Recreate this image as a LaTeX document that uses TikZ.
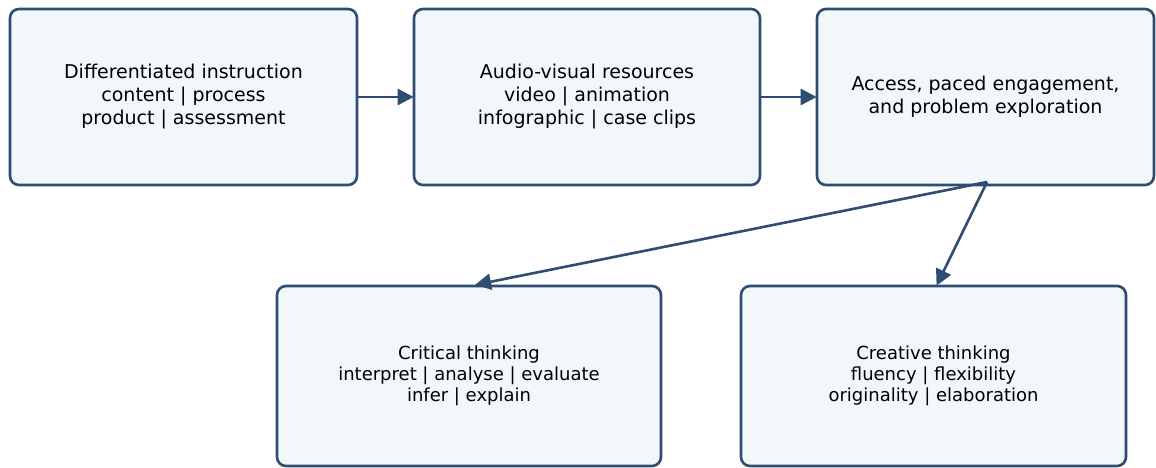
\documentclass[tikz,border=0pt]{standalone}
\usepackage{fontspec}
\setmainfont{DejaVu Sans}
\usetikzlibrary{arrows.meta,calc}
\definecolor{edge}{HTML}{2F4D73}
\definecolor{boxfill}{HTML}{F3F6FB}
\tikzset{
  box/.style={draw=edge, fill=boxfill, line width=2.6pt, rounded corners=9pt, align=center, inner sep=0pt},
  topbox/.style={box, minimum height=176pt, font=\fontsize{19}{23}\selectfont},
  lowbox/.style={box, minimum height=180pt, minimum width=384pt, font=\fontsize{18}{21}\selectfont},
  arr/.style={draw=edge, line width=2.6pt, -{Triangle[length=16pt,width=16pt]}, shorten >=-1pt}
}
\begin{document}
\begin{tikzpicture}[x=1pt,y=-1pt]
\useasboundingbox[fill=white] (0,0) rectangle (1156,468);
\node[topbox, minimum width=347pt] (b1) at (183.5,97) {Differentiated instruction\\content | process\\product | assessment};
\node[topbox, minimum width=346pt] (b2) at (587,97) {Audio-visual resources\\video | animation\\infographic | case clips};
\node[topbox, minimum width=337pt] (b3) at (985.5,97) {Access, paced engagement,\\and problem exploration};
\node[lowbox] (b4) at (469,376) {Critical thinking\\interpret | analyse | evaluate\\infer | explain};
\node[lowbox, minimum width=385pt] (b5) at (933.5,376) {Creative thinking\\fluency | flexibility\\originality | elaboration};
\coordinate (s) at (987,182);
\draw[arr] (b1.east) -- (b2.west);
\draw[arr] (b2.east) -- (b3.west);
\draw[arr] (s) -- ([xshift=7pt]b4.north);
\draw[arr] (s) -- ([xshift=3.5pt]b5.north);
\end{tikzpicture}
\end{document}
